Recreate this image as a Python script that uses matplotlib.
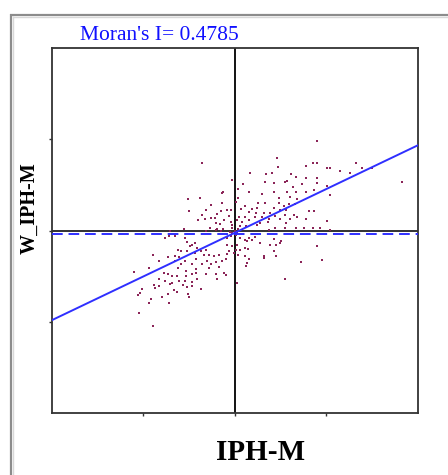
import matplotlib
matplotlib.use("Agg")
import matplotlib.pyplot as plt
from matplotlib.lines import Line2D

# Standardised IPH-M values and their spatial lag (W_IPH-M)
iph_m = [
    -0.72, -1.03, -0.77, -1.01, -0.28, -0.25, -0.51, -0.64, -0.28, -0.81, -0.66, -0.72,
    -0.53, -0.44, -0.38, -0.31, -0.42, -0.33, -0.55, -0.39, -0.25, -1.11, -1.41, -0.24,
    1.79, 0.93, 1.71, 1.80, 1.57, 0.95, 0.33, 0.68, 0.82, 1.23, 1.34, 1.56, 1.79, -0.07,
    0.67, 1.09, 1.14, 1.80, 0.18, 0.85, 1.28, 1.47, 0.07, 0.31, 0.85, 1.15, 1.35, 1.55,
    1.73, 0.60, 0.07, 0.96, 1.22, 1.37, 0.03, 0.50, 0.67, 0.96, 1.07, 1.18, 1.31, 0.23,
    0.37, 0.49, 0.85, 1.00, 1.13, -0.17, -0.09, 0.14, 0.32, 0.47, 0.63, 0.78, 0.89, 1.11,
    1.29, 1.63, 1.73, -0.13, 0.10, 0.23, 0.45, 0.60, 0.74, 1.00, 1.22, 1.37, 1.55, 0.05,
    0.16, 0.32, 0.55, 0.73, 1.12, -0.09, -0.06, 0.12, 0.25, 0.49, 0.74, 0.88, 1.11, 1.33,
    1.51, 1.71, 1.86,
    2.02, 2.09, 2.31, 2.66, 2.52, 2.79, 3.01, 2.02, 2.09, 3.65, 2.02, 2.09,
    -1.53, -1.44, -1.30, -1.09, -1.04, -0.93, -1.24, -1.17, -1.30, -1.23, -1.04, -0.97,
    -0.88, -0.82, -0.73, -0.64, -0.86, -0.68, -0.57, -0.46, -0.35, -1.79, -1.46, -1.66,
    -1.31, -1.08, -0.84, -0.60, -0.42, -0.28, -1.17, -0.93, -0.71, -0.51, -1.88, -1.24,
    -1.06, -0.84, -0.57, -0.35, -2.21, -1.55, -1.46, -1.37, -1.26, -1.06, -0.93, -0.84,
    -0.64, -0.42, -0.24, -1.66, -1.53, -1.37, -1.23, -1.08, -0.93, -0.82, -0.39, -1.77,
    -1.65, -1.41, -1.14, -1.04, -0.93, -0.73, -2.04, -1.74, -1.32, -1.26, -2.08, -2.12,
    -1.46, -1.02, -1.00, -1.59, -1.84, -1.88, -1.44, -2.09, -1.79,
    -0.17, -0.09, 0.02, 0.12, 0.23, 0.31, 0.38, 0.44, 0.27, 0.56, 0.77, 0.85, 0.91, 0.98,
    1.02, -0.17, -0.06, 0.05, 0.12, 0.22, 0.28, 0.02, -0.13, -0.17, -0.02, 0.07, 0.22,
    0.63, 0.65, 0.85, 0.91, 1.80, 0.32, 0.27, 0.25, -0.20, 1.46, 1.91, -0.20, 0.05, 1.11,
    0.00, -0.05, 0.05, -0.10, 0.08, -0.06, -0.64, -0.42, -0.31,
]
w_iph_m = [
    1.49, 0.68, 0.72, 0.42, 0.82, 0.84, 0.55, 0.46, 0.60, 0.24, 0.25, 0.33,
    0.28, 0.28, 0.36, 0.42, 0.17, 0.15, 0.06, 0.04, 0.04, 0.03, 0.00, 0.24,
    1.97, 1.58, 1.48, 1.49, 1.41, 1.40, 1.26, 1.23, 1.26, 1.23, 1.17, 1.15, 1.15, 1.10,
    1.06, 1.06, 1.08, 1.04, 1.02, 1.04, 0.95, 1.01, 0.90, 0.84, 0.84, 0.84, 0.84, 0.84,
    0.88, 0.81, 0.71, 0.71, 0.74, 0.69, 0.63, 0.60, 0.60, 0.60, 0.53, 0.57, 0.57, 0.53,
    0.48, 0.49, 0.49, 0.46, 0.46, 0.46, 0.44, 0.48, 0.40, 0.39, 0.39, 0.39, 0.31, 0.35,
    0.35, 0.42, 0.42, 0.31, 0.29, 0.29, 0.29, 0.29, 0.26, 0.26, 0.26, 0.29, 0.26, 0.22,
    0.19, 0.22, 0.17, 0.19, 0.17, 0.19, 0.12, 0.09, 0.09, 0.12, 0.02, 0.06, 0.06, 0.06,
    0.06, 0.06, 0.06,
    1.37, 1.37, 1.31, 1.49, 1.26, 1.36, 1.36, 0.98, 0.77, 1.06, 0.20, 0.02,
    -0.16, -0.12, -0.12, -0.16, -0.26, -0.31, -0.42, -0.45, -0.56, -0.58, -0.45, -0.34,
    -0.28, -0.38, -0.45, -0.42, -0.49, -0.54, -0.54, -0.56, -0.53, -0.53, -0.58, -0.67,
    -0.67, -0.66, -0.63, -0.67, -0.69, -0.67, -0.74, -0.74, -0.74, -0.74, -0.82, -0.83,
    -0.88, -0.85, -0.83, -0.80, -0.91, -0.93, -0.96, -1.00, -1.00, -1.00, -0.96, -0.93,
    -0.96, -0.96, -0.93, -1.07, -1.11, -1.15, -1.11, -1.11, -1.12, -1.07, -1.07, -1.20,
    -1.22, -1.18, -1.20, -1.24, -1.22, -1.29, -1.29, -1.26, -1.31, -1.34, -1.36, -1.42,
    -1.39, -1.39, -1.46, -1.46, -1.51, -1.58, -1.58, -1.80, -2.09,
    -0.16, -0.12, -0.10, -0.16, -0.20, -0.16, -0.20, -0.15, -0.22, -0.27, -0.31, -0.18,
    -0.31, -0.27, -0.22, -0.31, -0.34, -0.31, -0.42, -0.39, -0.41, -0.42, -0.45, -0.51,
    -0.49, -0.54, -0.56, -0.56, -0.60, -0.44, -0.56, -0.34, -0.63, -0.71, -0.78, -0.63,
    -0.69, -0.65, -0.98, -1.16, -1.07,
    0.00, 0.05, -0.05, -0.03, 0.04, -0.05, -0.01, 0.01, 0.00,
]

morans_i = 0.4785
intercept = -0.05
lag_mean = -0.08
axis_limit = 4.0

W, H = 448, 475
fig = plt.figure(figsize=(W / 100, H / 100), dpi=100)
fig.patch.set_facecolor("white")

# window-style border along the top and left
def px_line(x0, y0, x1, y1, color, lw):
    fig.add_artist(Line2D([x0 / W, x1 / W], [1 - y0 / H, 1 - y1 / H],
                          transform=fig.transFigure, color=color, lw=lw,
                          solid_capstyle="butt"))

px_line(10, 14.5, W, 14.5, "#8c8c8c", 1.6)
px_line(11, 14, 11, H, "#8c8c8c", 1.6)
px_line(12.5, 16.5, W, 16.5, "#d8d8d8", 1.0)
px_line(13, 16, 13, H, "#d8d8d8", 1.0)

left, right, top, bottom = 52, 417.5, 48, 413
ax = fig.add_axes([left / W, 1 - bottom / H, (right - left) / W, (bottom - top) / H])
ax.set_xlim(-axis_limit, axis_limit)
ax.set_ylim(-axis_limit, axis_limit)

for s in ax.spines.values():
    s.set_color("#333333")
    s.set_linewidth(1.3)

ax.set_xticks([-2, 0, 2])
ax.set_yticks([-2, 0, 2])
ax.set_xticklabels([])
ax.set_yticklabels([])
ax.tick_params(length=2.5, width=1.0, color="#333333", direction="out")

# quadrant axes
ax.axvline(0, color="black", lw=1.3, zorder=2)
ax.axhline(0, color="#222222", lw=1.3, zorder=2)

ax.scatter(iph_m, w_iph_m, s=4.2, marker="s", color="#8b2558",
           linewidths=0, zorder=3)

# mean of the lag and the regression line
ax.axhline(lag_mean, color="#2f2fff", lw=1.4, ls=(0, (5.5, 3)), zorder=4)
xs = [-axis_limit, axis_limit]
ax.plot(xs, [intercept + morans_i * v for v in xs], color="#2f2fff", lw=1.4, zorder=4)

fig.text(80 / W, 1 - 40 / H, f"Moran's I= {morans_i}", color="#1010ff",
         fontsize=15.5, family="Liberation Serif", ha="left", va="baseline")
fig.text(261 / W, 1 - 460 / H, "IPH-M", fontsize=21, fontweight="bold",
         family="Liberation Serif", ha="center", va="baseline")
fig.text(30 / W, 1 - 208 / H, "W_IPH-M", fontsize=14.5, fontweight="bold",
         family="Liberation Serif", ha="center", va="center", rotation=90)

fig.savefig("out.png", dpi=100, facecolor="white")
